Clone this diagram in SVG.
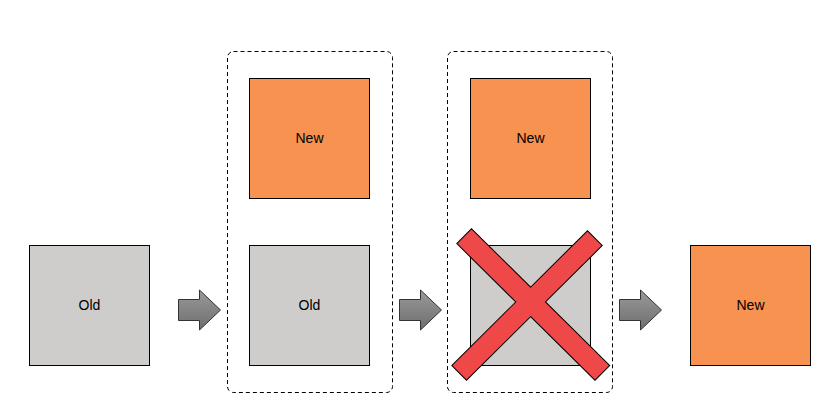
<svg xmlns="http://www.w3.org/2000/svg" width="823" height="405" viewBox="0 0 823 405">
<style>
.old{fill:#cfcdcb;stroke:#000;stroke-width:1}
.new{fill:#f79251;stroke:#000;stroke-width:1}
.grp{fill:none;stroke:#000;stroke-width:1;stroke-dasharray:4 3}
.lbl{font-family:"Liberation Sans",Arial,sans-serif;font-size:14px;fill:#000;text-anchor:middle;dominant-baseline:central}
.arr{fill:url(#ag);stroke:#333;stroke-width:1}
.xo{fill:#ef4848;stroke:#000;stroke-width:2}
.xf{fill:#ef4848;stroke:none}
</style>
<defs>
<linearGradient id="ag" x1="0" y1="0" x2="0" y2="1">
<stop offset="0" stop-color="#9a9a9a"/>
<stop offset="1" stop-color="#6e6e6e"/>
</linearGradient>
<polygon id="arrow" points="0,-10.5 21,-10.5 21,-20 42,0 21,20 21,10.5 0,10.5"/>
<polygon id="s1" points="471.5,229.4 609,365.4 595,379.6 457.5,243.6"/>
<polygon id="s2" points="601.5,245.6 466.5,379.6 452.5,365.4 587.5,231.4"/>
</defs>
<rect class="grp" x="227.5" y="51.5" width="165" height="341" rx="6"/>
<rect class="grp" x="447.5" y="51.5" width="165" height="341" rx="6"/>
<g id="old1"><rect class="old" x="29.5" y="245.5" width="120" height="120"/><text class="lbl" x="89.5" y="305">Old</text></g>
<g id="new1"><rect class="new" x="249.5" y="78.5" width="120" height="120"/><text class="lbl" x="309.5" y="138">New</text></g>
<g id="old2"><rect class="old" x="249.5" y="245.5" width="120" height="120"/><text class="lbl" x="309.5" y="305">Old</text></g>
<g id="new2"><rect class="new" x="470.5" y="78.5" width="120" height="120"/><text class="lbl" x="530.5" y="138">New</text></g>
<g id="old3"><rect class="old" x="470.5" y="245.5" width="120" height="120"/>
<use href="#s1" class="xo"/><use href="#s2" class="xo"/>
<use href="#s1" class="xf"/><use href="#s2" class="xf"/></g>
<g id="new3"><rect class="new" x="690.5" y="245.5" width="120" height="120"/><text class="lbl" x="750.5" y="305">New</text></g>
<g id="connectors">
<use href="#arrow" class="arr" x="178.5" y="310"/>
<use href="#arrow" class="arr" x="399.5" y="310"/>
<use href="#arrow" class="arr" x="619.5" y="310"/>
</g>
</svg>
